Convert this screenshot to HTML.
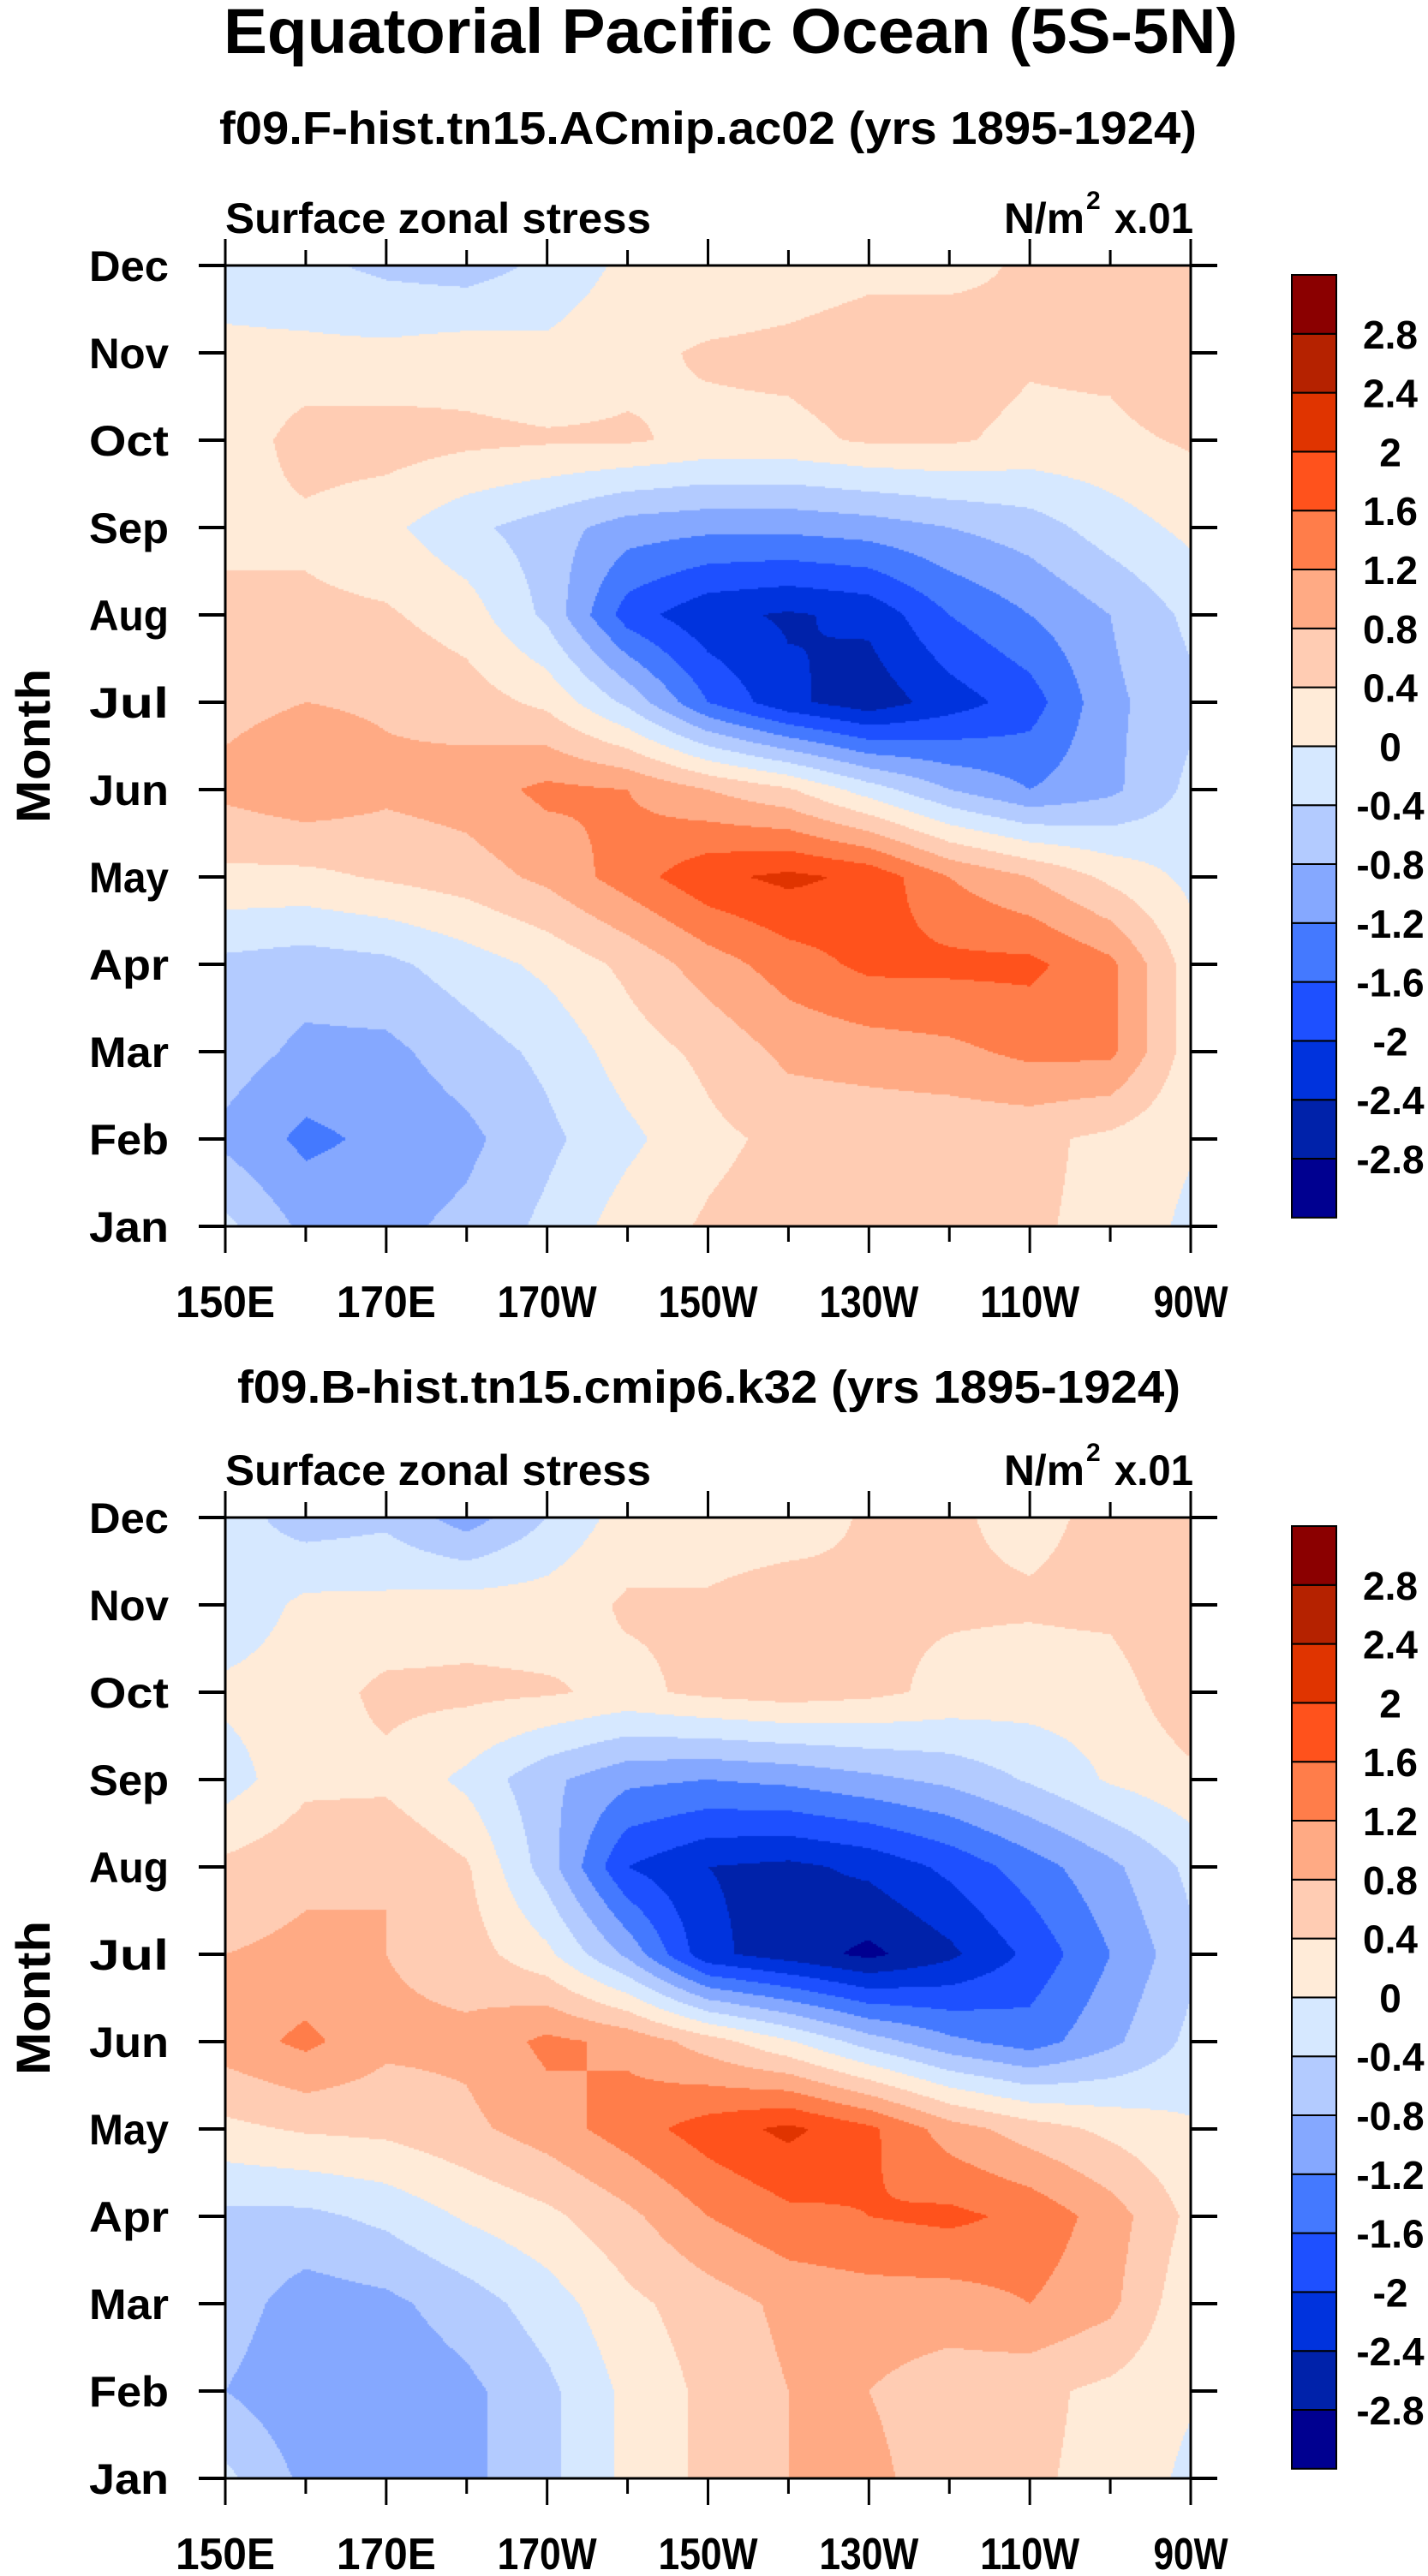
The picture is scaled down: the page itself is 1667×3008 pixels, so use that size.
<!DOCTYPE html>
<html><head><meta charset="utf-8">
<style>
html,body{margin:0;padding:0;background:#fff;}
#wrap{position:relative;width:1667px;height:3008px;overflow:hidden;}
canvas{position:absolute;}
svg{position:absolute;left:0;top:0;}
text{font-family:"Liberation Sans",sans-serif;font-weight:bold;fill:#000;}
</style></head>
<body>
<div id="wrap">
<canvas id="c1"></canvas>
<canvas id="c2"></canvas>
<svg id="svg" width="1667" height="3008"></svg>
</div>
<script>
// ---- data ----
const months = ["Jan","Feb","Mar","Apr","May","Jun","Jul","Aug","Sep","Oct","Nov","Dec"];
const lons = [150,160,170,180,190,200,210,220,230,240,250,260,270];
const lonTicks = [150,170,190,210,230,250,270];
const lonTickLabels = ["150E","170E","170W","150W","130W","110W","90W"];
const levels = [-2.8,-2.4,-2,-1.6,-1.2,-0.8,-0.4,0,0.4,0.8,1.2,1.6,2,2.4,2.8];
const levelLabels = ["-2.8","-2.4","-2","-1.6","-1.2","-0.8","-0.4","0","0.4","0.8","1.2","1.6","2","2.4","2.8"];
const colors = ["#000090","#0022AA","#0033DD","#1E50FF","#4479FF","#85A8FF","#B3CBFF","#D6E8FF","#FFEBD8","#FFCCB3","#FFAA84","#FF7D4A","#FF521C","#E03400","#B52200","#8B0000"];
const stressA = [
[-0.3,-0.9,-0.9,-0.7,-0.3,0.2,0.45,0.6,0.6,0.5,0.45,0.3,-0.1],
[-0.9,-1.3,-1.1,-0.9,-0.5,-0.1,0.3,0.5,0.5,0.5,0.5,0.3,0.05],
[-0.6,-0.9,-0.9,-0.6,-0.3,0.2,0.5,0.9,1.0,1.1,1.3,1.3,0.2],
[-0.5,-0.6,-0.5,-0.2,0.1,0.5,1.0,1.4,1.7,1.7,1.7,1.3,0.2],
[0.3,0.3,0.45,0.6,0.9,1.4,1.9,2.1,1.9,1.2,0.8,0.3,-0.1],
[0.9,1.1,0.9,1.0,1.3,1.2,0.8,0.45,-0.2,-0.8,-1.2,-0.9,-0.3],
[0.7,0.8,0.75,0.6,0.3,-0.5,-1.6,-2.3,-2.65,-2.2,-1.8,-0.9,-0.5],
[0.5,0.5,0.45,0.2,-0.5,-1.8,-2.3,-2.45,-2.3,-1.6,-1.2,-0.8,-0.3],
[0.3,0.3,0.1,-0.3,-0.6,-1.0,-1.1,-1.1,-1.0,-0.8,-0.6,-0.2,0.1],
[0.1,0.6,0.6,0.5,0.45,0.45,0.3,0.3,0.45,0.45,0.3,0.3,0.45],
[0.1,0.1,0.1,0.2,0.1,0.3,0.45,0.5,0.6,0.6,0.45,0.5,0.8],
[-0.2,-0.3,-0.5,-0.6,-0.3,0.1,0.1,0.2,0.3,0.3,0.45,0.5,0.6]];
const stressB = [
[-0.3,-0.9,-1.0,-0.9,-0.5,0.1,0.5,0.8,0.9,0.6,0.45,0.3,-0.1],
[-0.8,-1.1,-1.1,-0.9,-0.5,0.1,0.5,0.8,0.8,0.6,0.5,0.3,0.05],
[-0.6,-1.0,-0.9,-0.6,-0.2,0.3,0.6,0.9,1.0,1.0,1.2,0.9,0.1],
[-0.5,-0.5,-0.3,0.05,0.3,0.7,1.2,1.5,1.6,1.7,1.5,1.0,0.3],
[0.3,0.45,0.5,0.7,1.0,1.4,1.8,2.1,1.7,1.0,0.6,0.3,0.05],
[1.0,1.3,0.9,0.9,1.3,1.1,0.6,0.05,-0.6,-1.1,-1.4,-0.9,-0.3],
[0.8,0.9,0.8,0.6,0.1,-0.9,-2.3,-2.6,-2.9,-2.5,-1.9,-1.2,-0.5],
[0.5,0.7,0.8,0.45,-0.6,-2.0,-2.4,-2.5,-2.3,-1.9,-1.4,-0.9,-0.3],
[-0.2,0.3,0.3,-0.1,-0.7,-1.1,-1.2,-1.1,-0.9,-0.7,-0.35,0.05,0.3],
[0.1,0.2,0.5,0.5,0.45,0.3,0.5,0.6,0.5,0.3,0.2,0.2,0.7],
[-0.3,0.1,0.1,0.2,0.2,0.45,0.45,0.6,0.45,0.45,0.45,0.5,0.8],
[-0.2,-0.6,-0.5,-1.0,-0.4,0.2,0.2,0.2,0.45,0.45,0.3,0.5,0.6]];

// ---- layout ----
const PL=263, PR=1390, PH=1122;
const panels=[{top:310,data:stressA,cv:"c1",sub:"f09.F-hist.tn15.ACmip.ac02 (yrs 1895-1924)",subY:168,subX:256,subW:1141,cbTop:321},
              {top:1772,data:stressB,cv:"c2",sub:"f09.B-hist.tn15.cmip6.k32 (yrs 1895-1924)",subY:1638,subX:277,subW:1101,cbTop:1782}];
const xScale=l=>PL+(l-150)/(270-150)*(PR-PL);
const yScale=(m,top)=>top+PH-(m/11)*PH;
const NS="http://www.w3.org/2000/svg";
const svg=document.getElementById('svg');
function mk(tag,attrs,parent){const e=document.createElementNS(NS,tag);for(const k in attrs)e.setAttribute(k,attrs[k]);(parent||svg).appendChild(e);return e;}
function txt(s,attrs){const e=mk('text',attrs);e.textContent=s;return e;}
function colorFor(v){let i=0;while(i<levels.length&&v>=levels[i]-1e-9)i++;return colors[i];}
function sample(d,mf,lf){const m0=Math.min(Math.floor(mf),10),l0=Math.min(Math.floor(lf),11);const tm=mf-m0,tl=lf-l0;
 return d[m0][l0]*(1-tm)*(1-tl)+d[m0][l0+1]*(1-tm)*tl+d[m0+1][l0]*tm*(1-tl)+d[m0+1][l0+1]*tm*tl;}

const t=txt("Equatorial Pacific Ocean (5S-5N)",{x:261,y:62,'font-size':74,textLength:1184,lengthAdjust:"spacingAndGlyphs"});


panels.forEach((p,pi)=>{
 const W=PR-PL;const cv=document.getElementById(p.cv);cv.width=W;cv.height=PH;cv.style.left=PL+'px';cv.style.top=p.top+'px';
 const ctx=cv.getContext('2d');const step=2;
 for(let py=0;py<PH;py+=step){const mf=(PH-(py+step/2))/PH*11;
  for(let px=0;px<W;px+=step){const lf=(px+step/2)/W*12;ctx.fillStyle=colorFor(sample(p.data,Math.max(0,Math.min(11,mf)),Math.max(0,Math.min(12,lf))));ctx.fillRect(px,py,step,step);}}
 const top=p.top,bot=top+PH;
 let s=txt(p.sub,{x:p.subX,y:p.subY,'font-size':54,textLength:p.subW,lengthAdjust:"spacingAndGlyphs"});
 
 s=txt("Surface zonal stress",{x:263,y:top-38,'font-size':50,textLength:497,lengthAdjust:"spacingAndGlyphs"});
 
 s=txt("N/m",{x:1172,y:top-38,'font-size':50,textLength:94,lengthAdjust:"spacingAndGlyphs"});
 
 s=txt("2",{x:1268,y:top-66,'font-size':30});
 s=txt("x.01",{x:1301,y:top-38,'font-size':50,textLength:92,lengthAdjust:"spacingAndGlyphs"});
 
 const fr=mk('rect',{x:PL,y:top,width:PR-PL,height:PH,fill:'none',stroke:'#000','stroke-width':3});
 
 months.forEach((m,i)=>{const y=yScale(i,top);
  mk('line',{x1:PL-31,x2:PL,y1:y,y2:y,stroke:'#000','stroke-width':4});
  mk('line',{x1:PR,x2:PR+31,y1:y,y2:y,stroke:'#000','stroke-width':4});
  const l=txt(m,{x:197,y:y+18,'font-size':50,'text-anchor':'end',textLength:m.length*31,lengthAdjust:"spacingAndGlyphs"});
  });
 for(let lo=150;lo<=270;lo+=10){const x=xScale(lo);const len=(lo-150)%20===0?31:18;
  mk('line',{x1:x,x2:x,y1:top-len,y2:top,stroke:'#000','stroke-width':3});
  mk('line',{x1:x,x2:x,y1:bot,y2:bot+len,stroke:'#000','stroke-width':3});}
 lonTicks.forEach((lo,i)=>{const l=txt(lonTickLabels[i],{x:xScale(lo),y:bot+106,'font-size':52,'text-anchor':'middle',textLength:lonTickLabels[i].length*29,lengthAdjust:"spacingAndGlyphs"});
  });
 const my=top+PH/2;
 const mt=txt("Month",{x:0,y:0,'font-size':56,'text-anchor':'middle',textLength:180,lengthAdjust:"spacingAndGlyphs",transform:`translate(58,${my}) rotate(-90)`});
 
 const cbx=1508,cbw=52,bh=68.8,cbt=p.cbTop;
 const cb=mk('g',{});
 colors.forEach((c,i)=>{const y=cbt+(15-i)*bh;const r=mk('rect',{x:cbx,y:y,width:cbw,height:bh,fill:c,stroke:'#000','stroke-width':2},cb);
  });
 levels.forEach((v,i)=>{const y=cbt+(15-i)*bh;const l=txt(levelLabels[i],{x:1623,y:y+17,'font-size':46,'text-anchor':'middle'});
  });
});
</script>
</body></html>
